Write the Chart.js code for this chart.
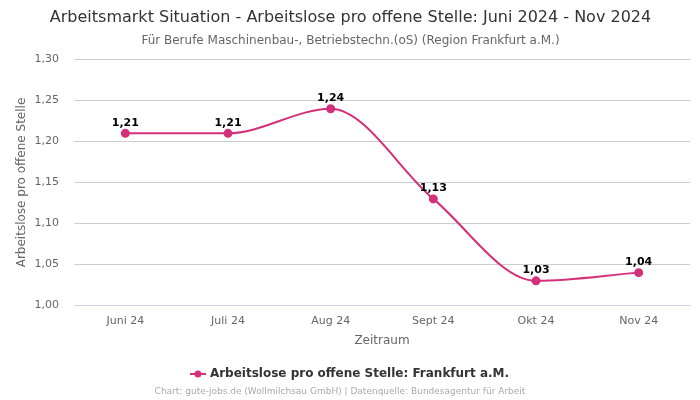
<!DOCTYPE html>
<html>
<head>
<meta charset="utf-8">
<script src="https://cdn.jsdelivr.net/npm/chart.js@4"></script>
<style>
  html, body { margin: 0; padding: 0; background: #fff; }
  #wrap { width: 700px; height: 400px; }
</style>
</head>
<body>
<div id="wrap"><canvas id="chart"></canvas></div>
<script>
// Daten
const monate = ['Juni 24', 'Juli 24', 'Aug 24', 'Sept 24', 'Okt 24', 'Nov 24'];
const werte = [1.21, 1.21, 1.24, 1.13, 1.03, 1.04];
const serienName = 'Arbeitslose pro offene Stelle: Frankfurt a.M.';
const quelle = 'Chart: gute-jobs.de (Wollmilchsau GmbH) | Datenquelle: Bundesagentur für Arbeit';

const farbe = '#d4307a';
Chart.defaults.font.family = '"DejaVu Sans", sans-serif';

function fmt(v) {
  return v.toFixed(2).replace('.', ',');
}

// Legendensymbol: Linie mit Punkt
const legendIcon = document.createElement('canvas');
legendIcon.width = 16;
legendIcon.height = 10;
(function () {
  const c = legendIcon.getContext('2d');
  c.strokeStyle = farbe;
  c.lineWidth = 2;
  c.beginPath();
  c.moveTo(0, 5);
  c.lineTo(16, 5);
  c.stroke();
  c.fillStyle = farbe;
  c.beginPath();
  c.arc(8, 5, 3.5, 0, Math.PI * 2);
  c.fill();
})();

// Werte über den Punkten
const wertLabels = {
  id: 'wertLabels',
  afterDatasetsDraw(chart) {
    const ctx = chart.ctx;
    const meta = chart.getDatasetMeta(0);
    ctx.save();
    ctx.font = 'bold 11px "DejaVu Sans", sans-serif';
    ctx.fillStyle = '#000';
    ctx.textAlign = 'center';
    ctx.textBaseline = 'bottom';
    meta.data.forEach((pt, i) => {
      ctx.fillText(fmt(werte[i]), pt.x, pt.y - 5);
    });
    ctx.restore();
  }
};

// Quellenangabe unten
const fussnote = {
  id: 'fussnote',
  afterDraw(chart) {
    const ctx = chart.ctx;
    ctx.save();
    ctx.font = '9px "DejaVu Sans", sans-serif';
    ctx.fillStyle = '#aaa';
    ctx.textAlign = 'center';
    ctx.textBaseline = 'middle';
    ctx.fillText(quelle, 340, 392);
    ctx.restore();
  }
};

new Chart(document.getElementById('chart'), {
  type: 'line',
  data: {
    labels: monate,
    datasets: [{
      label: serienName,
      data: werte,
      borderColor: farbe,
      backgroundColor: farbe,
      borderWidth: 2,
      pointRadius: 3.5,
      pointBackgroundColor: farbe,
      pointBorderColor: farbe,
      cubicInterpolationMode: 'monotone',
      fill: false
    }]
  },
  options: {
    responsive: true,
    maintainAspectRatio: false,
    animation: false,
    layout: { padding: { left: 11, right: 10, top: 0, bottom: 10 } },
    plugins: {
      title: {
        display: true,
        text: 'Arbeitsmarkt Situation - Arbeitslose pro offene Stelle: Juni 2024 - Nov 2024',
        color: '#333',
        font: { size: 16, weight: 'normal' },
        padding: { top: 8, bottom: 4 }
      },
      subtitle: {
        display: true,
        text: 'Für Berufe Maschinenbau-, Betriebstechn.(oS) (Region Frankfurt a.M.)',
        color: '#666',
        font: { size: 12 },
        padding: { top: 2, bottom: 12 }
      },
      legend: {
        position: 'bottom',
        labels: {
          usePointStyle: true,
          pointStyle: legendIcon,
          color: '#333',
          font: { size: 12, weight: 'bold' },
          padding: 16
        }
      },
      tooltip: { enabled: false }
    },
    scales: {
      x: {
        offset: true,
        grid: { display: false, drawTicks: false },
        border: { color: '#ccd6eb' },
        ticks: { color: '#666', font: { size: 11 }, padding: 9 },
        title: { display: true, text: 'Zeitraum', color: '#666', font: { size: 12 }, padding: { top: -3, bottom: 4 } }
      },
      y: {
        min: 1.0,
        max: 1.3,
        afterFit: scale => { scale.width = 63; },
        grid: { color: '#cccccc', drawTicks: false },
        border: { display: false },
        ticks: {
          stepSize: 0.05,
          color: '#666',
          font: { size: 11 },
          padding: 15,
          callback: v => fmt(v)
        },
        title: { display: true, text: 'Arbeitslose pro offene Stelle', color: '#666', font: { size: 12 }, padding: { top: 4, bottom: 4 } }
      }
    }
  },
  plugins: [wertLabels, fussnote]
});
</script>
</body>
</html>
